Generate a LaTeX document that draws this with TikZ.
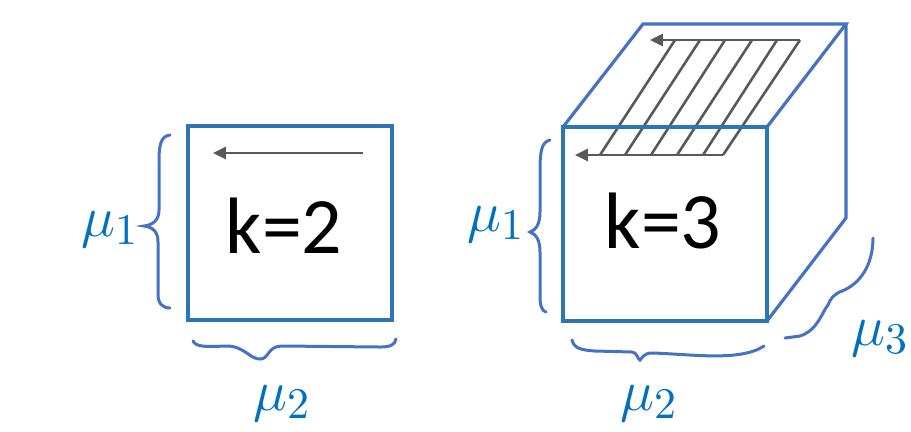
\documentclass[tikz,border=0pt]{standalone}
\usepackage{fontspec}
\newfontfamily\calibri{Carlito}
\usepackage{tikz}
\usetikzlibrary{arrows.meta,positioning,calc}
\definecolor{faceblue}{HTML}{2E75B6}
\definecolor{edgeblue}{HTML}{4472C4}
\definecolor{labelblue}{HTML}{0070C0}
\definecolor{scangray}{HTML}{595959}

\begin{document}
\begin{tikzpicture}[x=0.25pt,y=-0.25pt,
    face/.style={faceblue,line width=0.8pt},
    edge/.style={edgeblue,line width=0.8pt},
    brace/.style={edgeblue,line width=0.75pt,line cap=round},
    scanline/.style={scangray,line width=0.65pt},
    scanarrow/.style={scangray,line width=0.65pt,-{Triangle[length=3.2pt,width=3pt]}},
    klabel/.style={anchor=base,font=\calibri\fontsize{20}{24}\selectfont},
    sizelabel/.style={anchor=base,labelblue,font=\fontsize{15}{18}\selectfont}]
    \useasboundingbox (0,0) rectangle (911,431);

    % Left square (k=2)
    \draw[face] (188,126) rectangle (392,320);
    \draw[scanarrow] (363,153) -- (213,153);
    \node[klabel] (kTwo) at (284,253) {k=2};

    % Braces of the square
    \draw[brace] (170,135) .. controls (161,136) and (159,145) .. (159,160) -- (159,210)
        .. controls (159,220) and (153,225) .. (144,226)
        .. controls (153,227) and (158,232) .. (158,242) -- (158,294)
        .. controls (158,303) and (162,308) .. (170,308);
    \node[sizelabel] (muOneL) at (110,236) {$\mu_1$};
    \draw[brace] (193,341) .. controls (196,347) and (206,347) .. (225,346)
        .. controls (244,345) and (250,360) .. (261,359)
        .. controls (269,358) and (268,346) .. (282,346) -- (380,347)
        .. controls (390,347) and (395,345) .. (396,339);
    \node[sizelabel] (muTwoL) at (282,410) {$\mu_2$};

    % Cube (k=3)
    \coordinate (ftl) at (563,127);
    \coordinate (ftr) at (767,127);
    \coordinate (fbr) at (767,321);
    \coordinate (btl) at (643,24);
    \coordinate (btr) at (846,24);
    \coordinate (bbr) at (846,218);

    % Scan lines on the top face
    \foreach \b/\t in {600/675,625/700,651/725,677/752,703/777,723/800}
        \draw[scanline] (\b,155) -- (\t,40);
    \draw[scanarrow] (800,40) -- (650,40);
    \draw[scanarrow] (723,155) -- (575,155);

    \draw[edge] (ftl) -- (btl) -- (btr) -- (ftr);
    \draw[edge] (btr) -- (bbr) -- (fbr);
    \draw[face] (ftl) rectangle (fbr);
    \node[klabel] (kThree) at (663,248) {k=3};

    % Braces of the cube
    \draw[brace] (550,140) .. controls (542,142) and (540,150) .. (540,170) -- (540,212)
        .. controls (540,224) and (536,230) .. (530,232)
        .. controls (536,234) and (540,240) .. (540,252) -- (540,296)
        .. controls (540,306) and (542,311) .. (546,312);
    \node[sizelabel] (muOneR) at (496,231) {$\mu_1$};
    \draw[brace] (572,340) .. controls (574,348) and (580,350) .. (595,351) -- (632,352)
        .. controls (637,352) and (638,360) .. (640,360)
        .. controls (642,358) and (644,353) .. (652,353)
        .. controls (690,354) and (740,362) .. (764,346);
    \node[sizelabel] (muTwoR) at (649,410) {$\mu_2$};
    \draw[brace] (873,238) .. controls (873,265) and (860,284) .. (842,291)
        .. controls (834,294) and (830,299) .. (828,305)
        .. controls (822,312) and (818,330) .. (800,336) -- (785,338);
    \node[sizelabel] (muThree) at (880,345) {$\mu_3$};
\end{tikzpicture}
\end{document}
